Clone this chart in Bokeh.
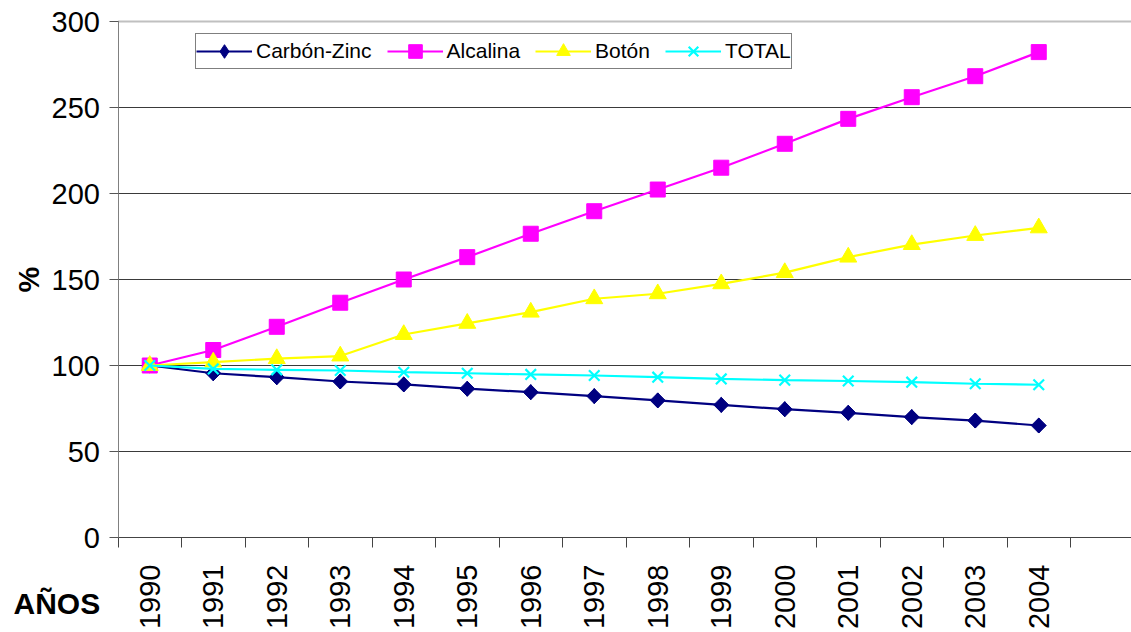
import math
from bokeh.plotting import figure
from bokeh.models import FixedTicker, Range1d, Label, Legend, LegendItem
from bokeh.embed import file_html
from bokeh.resources import INLINE

years = ["1990", "1991", "1992", "1993", "1994", "1995", "1996", "1997",
         "1998", "1999", "2000", "2001", "2002", "2003", "2004"]
carbon_zinc = [100, 95.5, 93.2, 90.7, 89.0, 86.5, 84.5, 82.2, 79.7, 77.1, 74.6, 72.5, 70.0, 68.0, 65.1]
alcalina = [100, 109, 122.5, 136.5, 150, 163, 176.6, 189.7, 202.3, 215, 228.9, 243.4, 256, 268.2, 282.2]
boton = [100, 102, 104, 105.5, 118, 124.5, 131, 138.8, 141.7, 147.5, 154, 163, 170.3, 175.6, 180]
total = [100, 98, 97.5, 97.1, 96.1, 95.5, 94.8, 94.2, 93.2, 92.2, 91.5, 91.0, 90.3, 89.4, 88.8]
y_ticks = [0, 50, 100, 150, 200, 250, 300]
grid_levels = [50, 100, 150, 200, 250]

FONT = "Liberation Sans"
W, H = 1131, 632
X0, SX = 117.5, 63.5          # page x of category 0 start, px per category
Y0, SY = 537.0, 1.72          # page y of value 0, px per unit
X_END = (W - X0) / SX
xs = [i + 0.5 for i in range(len(years))]

p = figure(width=W, height=H, output_backend="svg", toolbar_location=None,
           x_range=Range1d(-X0 / SX, X_END), y_range=Range1d(-(H - Y0) / SY, Y0 / SY),
           min_border_left=0, min_border_right=0, min_border_top=0, min_border_bottom=0)
p.outline_line_color = None
p.background_fill_color = "white"
p.xgrid.grid_line_color = None
p.ygrid.grid_line_color = None

xa = p.xaxis[0]
xa.fixed_location = 0
xa.bounds = (0, X_END)
xa.ticker = FixedTicker(ticks=xs, minor_ticks=list(range(0, 17)))
xa.major_label_overrides = {x: y for x, y in zip(xs, years)}
xa.major_label_orientation = math.pi / 2
xa.major_tick_line_color = None
xa.major_tick_out = 10
xa.major_tick_in = 0
xa.minor_tick_out = 10
xa.minor_tick_in = 0
xa.minor_tick_line_color = "#444444"
xa.axis_line_color = "#444444"
xa.major_label_text_font = FONT
xa.major_label_text_font_size = "29px"
xa.major_label_text_color = "black"
xa.major_label_standoff = 17

ya = p.yaxis[0]
ya.fixed_location = 0
ya.bounds = (0, 300)
ya.ticker = FixedTicker(ticks=y_ticks)
ya.minor_tick_line_color = None
ya.major_tick_out = 9
ya.major_tick_in = 0
ya.major_tick_line_color = "#555555"
ya.axis_line_color = "#808080"
ya.major_label_text_font = FONT
ya.major_label_text_font_size = "29px"
ya.major_label_text_color = "black"
ya.major_label_standoff = 9
ya.axis_label = "%"
ya.axis_label_text_font = FONT
ya.axis_label_text_font_size = "29px"
ya.axis_label_text_font_style = "bold"
ya.axis_label_text_color = "black"
ya.axis_label_standoff = 4

# horizontal gridlines across the plot area only
p.segment(x0=[0] * len(grid_levels), y0=grid_levels, x1=[X_END] * len(grid_levels), y1=grid_levels,
          line_color="#3a3a3a", line_width=1)
p.segment(x0=[0], y0=[300], x1=[X_END], y1=[300], line_color="#c0c0c0", line_width=2)

items = []

ln = p.line(xs, carbon_zinc, line_color="#000080", line_width=2.2)
dm = p.scatter(xs, carbon_zinc, marker="diamond", size=15, fill_color="#000080", line_color="#000080")
p.scatter(xs, carbon_zinc, marker="square", size=10.6, angle=math.pi / 4,
          fill_color="#000080", line_color="#000080")
items.append(LegendItem(label="Carbón-Zinc", renderers=[ln, dm]))

ln = p.line(xs, alcalina, line_color="#FF00FF", line_width=2.2)
sc = p.scatter(xs, alcalina, marker="square", size=15, fill_color="#FF00FF", line_color="#FF00FF")
items.append(LegendItem(label="Alcalina", renderers=[ln, sc]))

ln = p.line(xs, boton, line_color="#FFFF00", line_width=2.2)
sc = p.scatter(xs, boton, marker="triangle", size=17, fill_color="#FFFF00", line_color="#FFFF00")
items.append(LegendItem(label="Botón", renderers=[ln, sc]))

ln = p.line(xs, total, line_color="#00FFFF", line_width=2.2)
sc = p.scatter(xs, total, marker="x", size=15, line_color="#00FFFF", line_width=2.2)
items.append(LegendItem(label="TOTAL", renderers=[ln, sc]))

legend = Legend(items=items, orientation="horizontal", location=(195, H - 69),
                label_text_font=FONT, label_text_font_size="21px", label_text_color="black",
                glyph_width=56, glyph_height=34, label_height=22, label_standoff=4,
                spacing=15, padding=0, margin=0,
                border_line_color="black", border_line_width=1,
                background_fill_color="white", background_fill_alpha=1)
p.add_layout(legend, "center")

p.add_layout(Label(x=(13 - X0) / SX, y=(Y0 - 603) / SY, text="AÑOS", text_font=FONT,
                   text_font_size="30px", text_font_style="bold", text_color="black",
                   text_align="left", text_baseline="alphabetic"))

open("out.html", "w").write(file_html(p, INLINE))
